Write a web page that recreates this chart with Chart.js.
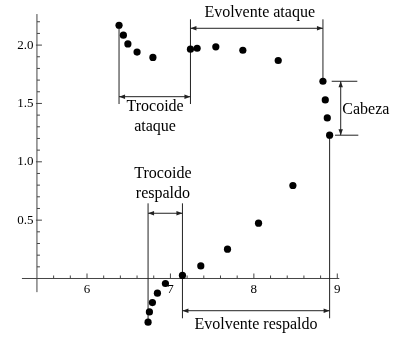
<!DOCTYPE html>
<html><head><meta charset="utf-8">
<script src="https://cdn.jsdelivr.net/npm/chart.js@4"></script>
<style>html,body{margin:0;padding:0;background:#fff}canvas{display:block}</style>
</head><body>
<canvas id="c" width="394" height="339"></canvas>
<script>
// ---- data ----
const trochoidAttackX = [6.384, 6.436, 6.49, 6.60, 6.79];
const trochoidAttackY = [2.17, 2.085, 2.01, 1.94, 1.894];
const involuteAttackX = [7.24, 7.32, 7.544, 7.868, 8.292, 8.828];
const involuteAttackY = [1.965, 1.973, 1.985, 1.956, 1.868, 1.69];
const headX = [8.856, 8.88, 8.908];
const headY = [1.53, 1.376, 1.228];
const involuteBackX = [8.468, 8.056, 7.684, 7.364, 7.144];
const involuteBackY = [0.797, 0.474, 0.251, 0.108, 0.026];
const trochoidBackX = [6.94, 6.844, 6.784, 6.748, 6.732];
const trochoidBackY = [-0.043, -0.126, -0.206, -0.286, -0.374];

const xTicks = [6, 7, 8, 9];
const xTickLabels = ['6', '7', '8', '9'];
const yTicks = [0.5, 1.0, 1.5, 2.0];
const yTickLabels = ['0.5', '1.0', '1.5', '2.0'];

// ---- annotation geometry (data units) ----
const plainSegments = [
  [6.384, 2.17, 6.384, 1.495],
  [7.24, 2.221, 7.24, 1.495],
  [8.828, 2.221, 8.828, 1.69],
  [8.933, 1.69, 9.24, 1.69],
  [8.973, 1.228, 9.252, 1.228],
  [8.908, 1.228, 8.908, -0.341],
  [7.144, 0.644, 7.144, -0.341],
  [6.732, 0.644, 6.732, -0.37]
];
const doubleArrows = [
  [6.384, 1.558, 7.24, 1.558],
  [7.24, 2.144, 8.828, 2.144],
  [9.041, 1.69, 9.041, 1.228],
  [7.144, -0.276, 8.908, -0.276],
  [6.732, 0.559, 7.144, 0.559]
];
const annotationTexts = [
  ['Trocoide', 6.816, 1.47, 'center'],
  ['ataque', 6.816, 1.298, 'center'],
  ['Evolvente ataque', 8.07, 2.273, 'center'],
  ['Cabeza', 9.06, 1.444, 'left'],
  ['Evolvente respaldo', 8.026, -0.398, 'center'],
  ['Trocoide', 6.91, 0.895, 'center'],
  ['respaldo', 6.91, 0.724, 'center']
];
const xAxisFrom = 5.22, xAxisTo = 9.024, yAxisFrom = -0.117, yAxisTo = 2.266, yAxisAt = 5.4;

const points = [];
[[trochoidAttackX, trochoidAttackY], [involuteAttackX, involuteAttackY], [headX, headY],
 [involuteBackX, involuteBackY], [trochoidBackX, trochoidBackY]].forEach(([xs, ys]) => {
  xs.forEach((v, i) => points.push({x: v, y: ys[i]}));
});

const annot = {
  id: 'annot',
  beforeDatasetsDraw(chart) {
    const {ctx, scales: {x, y}} = chart;
    const X = v => x.getPixelForValue(v), Y = v => y.getPixelForValue(v);
    const seg = (x1, y1, x2, y2) => { ctx.beginPath(); ctx.moveTo(x1, y1); ctx.lineTo(x2, y2); ctx.stroke(); };
    ctx.save();
    ctx.lineWidth = 1;
    // axes
    ctx.strokeStyle = '#444';
    const y0 = Y(0), xa = X(yAxisAt);
    seg(X(xAxisFrom), y0, X(xAxisTo), y0);
    seg(xa, Y(yAxisFrom), xa, Y(yAxisTo));
    for (let k = 28; k <= 45; k++) {
      const v = k / 5; const px = X(v);
      const major = k % 5 === 0;
      seg(px, y0, px, y0 - (major ? 5 : 3));
    }
    for (let k = 1; k <= 22; k++) {
      const v = k / 10; const py = Y(v);
      const major = k % 5 === 0;
      seg(major ? xa - 1 : xa, py, xa + (major ? 5 : 3), py);
    }
    // annotation lines
    ctx.strokeStyle = '#222';
    plainSegments.forEach(s => seg(X(s[0]), Y(s[1]), X(s[2]), Y(s[3])));
    ctx.fillStyle = '#222';
    const head = (tx, ty, fx, fy) => {
      const a = Math.atan2(ty - fy, tx - fx), L = 6, W = 2.2;
      ctx.beginPath();
      ctx.moveTo(tx, ty);
      ctx.lineTo(tx - L * Math.cos(a) + W * Math.sin(a), ty - L * Math.sin(a) - W * Math.cos(a));
      ctx.lineTo(tx - L * Math.cos(a) - W * Math.sin(a), ty - L * Math.sin(a) + W * Math.cos(a));
      ctx.closePath(); ctx.fill();
    };
    doubleArrows.forEach(s => {
      const x1 = X(s[0]), y1 = Y(s[1]), x2 = X(s[2]), y2 = Y(s[3]);
      seg(x1, y1, x2, y2);
      head(x1, y1, x2, y2); head(x2, y2, x1, y1);
    });
    // texts
    ctx.fillStyle = '#000';
    ctx.font = '16px "Liberation Serif"';
    ctx.textBaseline = 'middle';
    annotationTexts.forEach(t => { ctx.textAlign = t[3]; ctx.fillText(t[0], X(t[1]), Y(t[2])); });
    ctx.restore();
  }
};

new Chart(document.getElementById('c'), {
  type: 'scatter',
  data: {datasets: [{data: points, backgroundColor: '#000', borderColor: '#000', pointRadius: 3.6,
    pointHoverRadius: 3.6, borderWidth: 0, clip: false}]},
  options: {
    responsive: false, animation: false, events: [],
    layout: {padding: 12},
    plugins: {legend: {display: false}, tooltip: {enabled: false}},
    scales: {
      x: {type: 'linear', min: 5.1010, max: 9.5359, position: {y: 0},
        grid: {display: false, drawTicks: false}, border: {display: false},
        afterBuildTicks: s => { s.ticks = xTicks.map(v => ({value: v})); },
        ticks: {padding: 3, color: '#000', maxRotation: 0, autoSkip: false,
          font: {family: 'Liberation Serif', size: 13}, callback: (v, i) => xTickLabels[i]}},
      y: {type: 'linear', min: -0.4156, max: 2.2836, position: {x: 5.359},
        grid: {display: false, drawTicks: false}, border: {display: false},
        afterBuildTicks: s => { s.ticks = yTicks.map(v => ({value: v})); },
        ticks: {padding: 0, color: '#000', autoSkip: false,
          font: {family: 'Liberation Serif', size: 13}, callback: (v, i) => yTickLabels[i]}}
    }
  },
  plugins: [annot]
});
</script>
</body></html>
